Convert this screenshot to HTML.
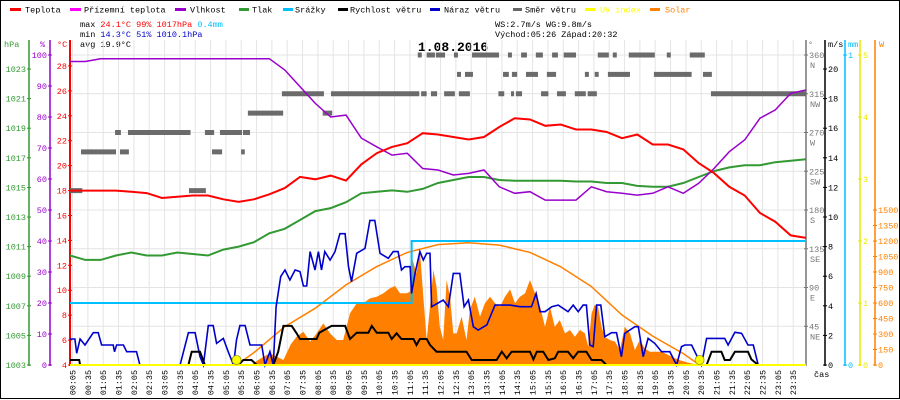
<!DOCTYPE html>
<html><head><meta charset="utf-8"><style>
html,body{margin:0;padding:0;background:#fff;}
svg{display:block;font-family:"Liberation Mono",monospace;}
</style></head><body>
<svg id="chart" width="900" height="400" viewBox="0 0 900 400" xmlns="http://www.w3.org/2000/svg">
<rect x="0.5" y="0.5" width="899" height="398" fill="#fff" stroke="#000" stroke-width="1"/>
<g font-size="8.5">
<g><rect x="10" y="8" width="11" height="3" fill="#ff0000"/><text x="25" y="12.5">Teplota</text></g>
<g><rect x="70" y="8" width="11" height="3" fill="#ff00ff"/><text x="84" y="12.5">Přízemní teplota</text></g>
<g><rect x="175" y="8" width="11" height="3" fill="#9900cc"/><text x="190" y="12.5">Vlhkost</text></g>
<g><rect x="239" y="8" width="10" height="3" fill="#339933"/><text x="252" y="12.5">Tlak</text></g>
<g><rect x="283" y="8" width="10" height="3" fill="#00bfff"/><text x="295" y="12.5">Srážky</text></g>
<g><rect x="338" y="8" width="10" height="3" fill="#000"/><text x="350" y="12.5">Rychlost větru</text></g>
<g><rect x="430" y="8" width="10" height="3" fill="#0000cc"/><text x="444" y="12.5">Náraz větru</text></g>
<g><rect x="513" y="8" width="9" height="3" fill="#666"/><text x="525" y="12.5">Směr větru</text></g>
<g><rect x="585" y="8" width="10" height="3" fill="#ffff00"/><text x="600" y="12.5" fill="#ffff00">UV index</text></g>
<g><rect x="650" y="8" width="10" height="3" fill="#ff8000"/><text x="665" y="12.5" fill="#ff8000">Solar</text></g>
</g>
<g font-size="8.5">
<text x="80" y="27">max <tspan fill="#ff0000">24.1°C  99%  1017hPa</tspan>     <tspan fill="#00bfff">0.4mm</tspan></text>
<text x="80" y="37">min <tspan fill="#0000cc">14.3°C  51%  1010.1hPa</tspan></text>
<text x="80" y="47">avg 19.9°C</text>
<text x="495" y="27">WS:2.7m/s   WG:9.8m/s</text>
<text x="495" y="37">Východ:05:26 Západ:20:32</text>
</g>
<text x="418" y="51" font-size="13" font-weight="bold">1.08.2016</text>
<g id="grid"></g>
<g id="axes"></g>
<g id="series"></g>
</svg>
<script>
// ---- data ----
const halfHours = [0,0.5,1,1.5,2,2.5,3,3.5,4,4.5,5,5.5,6,6.5,7,7.5,8,8.5,9,9.5,10,10.5,11,11.5,12,12.5,13,13.5,14,14.5,15,15.5,16,16.5,17,17.5,18,18.5,19,19.5,20,20.5,21,21.5,22,22.5,23,23.5,24];
const tempValues = [18.0,18.0,18.0,18.0,17.9,17.8,17.4,17.5,17.6,17.6,17.3,17.1,17.3,17.7,18.2,19.1,18.9,19.2,18.8,20.1,21.0,21.5,21.8,22.6,22.5,22.3,22.1,22.3,23.1,23.8,23.7,23.2,23.3,22.9,22.9,22.7,22.2,22.5,21.7,21.7,21.3,20.2,19.4,18.3,17.6,16.2,15.5,14.4,14.2];
const humidityValues = [97.9,97.9,98.8,98.8,98.8,98.8,98.8,98.8,98.8,98.8,98.8,98.8,98.8,98.8,95.2,89.8,84.4,80,80.6,73.2,70.4,67.7,68.3,63.4,62.9,61.3,61.8,62.9,57.5,55.4,55.9,53.2,53.2,53.2,57.5,55.9,55.4,54.8,55.4,57.5,55.4,58.6,63.4,68.8,72.6,79.6,82.3,87.6,88.7];
const pressureValues = [1010.4,1010.1,1010.1,1010.4,1010.6,1010.4,1010.4,1010.6,1010.5,1010.4,1010.8,1011.0,1011.3,1011.9,1012.2,1012.8,1013.4,1013.6,1014.0,1014.6,1014.7,1014.8,1014.7,1014.9,1015.3,1015.5,1015.7,1015.7,1015.5,1015.45,1015.45,1015.45,1015.45,1015.4,1015.4,1015.3,1015.3,1015.1,1015.05,1015.05,1015.3,1015.7,1016.1,1016.35,1016.5,1016.5,1016.7,1016.8,1016.9];
const rainTimes = [0,11.14,24];
const rainValues = [0.2,0.4,0.4];
const gustTimes = [0,0.16,0.22,0.33,0.49,0.76,0.92,1.03,1.41,1.45,1.52,1.74,1.85,2.17,2.28,3.59,3.86,4.08,4.24,4.35,4.51,4.67,4.78,5.0,5.16,5.33,5.43,5.54,5.71,5.87,6.25,6.36,6.52,6.63,6.72,6.87,7.01,7.17,7.34,7.5,7.61,7.72,7.83,7.99,8.1,8.2,8.31,8.48,8.64,8.8,8.97,9.08,9.18,9.35,9.62,9.78,9.94,10.11,10.38,10.54,10.7,10.81,10.92,11.09,11.14,11.25,11.41,11.52,11.63,11.74,11.79,12.17,12.34,12.5,12.71,12.85,12.99,13.15,13.31,13.59,13.86,14.35,14.67,15.05,15.2,15.33,15.49,15.71,15.92,16.24,16.41,16.57,16.73,16.84,16.95,17.06,17.17,17.31,17.44,17.66,17.82,17.98,18.09,18.42,18.53,18.69,18.85,19.07,19.29,19.56,19.78,19.94,20.05,20.27,20.59,20.76,21.35,21.46,21.68,21.9,22.11,22.28,22.44,24];
const gustValues = [1.76,1.76,0.79,1.76,1.35,2.18,2.18,1.35,1.35,0.9,1.35,1.35,0.9,0.9,0,0,2.18,2.18,0.56,0,2.66,2.66,1.46,1.80,0.9,0,1.69,2.66,2.66,1.35,1.35,0,0.9,0,3.94,5.97,6.42,5.74,6.42,6.31,5.34,5.34,7.66,6.42,7.66,6.42,7.66,7.09,7.66,8.87,8.87,6.64,5.63,7.55,7.88,9.77,9.77,7.55,7.21,7.66,7.66,6.42,6.64,6.64,4.84,6.19,7.66,7.09,7.55,7.55,3.94,4.39,3.94,6.19,6.19,3.94,4.39,2.59,2.36,2.70,4.05,4.05,3.94,3.94,4.84,3.6,3.6,3.94,4.05,3.6,4.05,3.6,4.05,4.05,1.35,1.24,4.05,4.05,1.91,2.18,2.18,0.56,2.14,2.59,2.59,0.56,1.80,1.46,0.9,0.9,0,1.24,1.35,1.35,0,1.80,1.80,1.35,2.21,2.14,1.35,1.35,0,0];
const speedTimes = [0,0.3,0.33,3.86,3.97,4.24,4.4,5.49,5.65,5.92,6.09,6.63,6.79,6.96,7.23,7.39,7.5,8.04,8.13,8.53,8.97,9.13,9.35,9.73,9.84,10.0,10.38,10.49,10.65,10.81,11.2,11.3,11.41,11.63,11.74,11.95,12.93,13.1,13.91,14.08,14.24,14.4,15.0,15.11,15.22,15.43,15.6,15.81,15.92,16.24,16.41,16.57,16.84,17.01,17.33,17.49,20.76,20.92,21.24,21.35,21.52,21.68,22.11,22.22,22.44,24];
const speedValues = [0.34,0.34,0,0,0.9,0.9,0,0,0.34,0.34,0,0,0.9,2.64,2.64,2.14,1.76,1.76,2.18,2.64,2.64,1.76,2.18,2.18,2.64,2.18,2.18,1.76,2.14,1.76,1.76,1.35,1.76,1.76,1.35,0.9,0.9,0.34,0.34,0.9,0.45,0.9,0.9,0.38,0.9,0.9,0.34,0.45,0.9,0.9,0.45,0.9,0.9,0.34,0.34,0,0,0.9,0.9,0.34,0.34,0.9,0.9,0.38,0,0];
const solarTimes = [5.9,6.2,6.52,6.96,7.2,7.39,7.61,7.83,8.04,8.26,8.48,8.7,8.91,9.13,9.35,9.56,9.78,10.0,10.22,10.43,10.6,10.76,10.98,11.09,11.14,11.3,11.41,11.52,11.63,11.74,11.85,11.95,12.06,12.17,12.28,12.39,12.5,12.61,12.77,12.93,13.04,13.2,13.37,13.53,13.7,13.86,14.02,14.18,14.35,14.51,14.67,14.84,15.0,15.16,15.33,15.49,15.65,15.81,15.97,16.14,16.3,16.46,16.63,16.79,16.9,17.01,17.11,17.22,17.33,17.44,17.6,17.77,17.93,18.09,18.26,18.42,18.58,18.74,18.91,19.07,19.29,19.51,19.72,19.94,20.15,20.37,20.59];
const solarValues = [0,60,113,48,200,274,322,226,306,403,306,242,242,500,597,597,645,661,694,742,765,694,694,710,1049,887,1113,661,242,564,919,758,371,242,823,661,306,306,468,242,532,661,468,597,661,597,564,661,732,597,661,694,823,694,564,371,564,371,435,306,339,274,339,306,177,500,581,564,371,274,242,226,145,371,306,145,242,161,129,129,129,97,65,42,23,10,0];
const solarMaxTimes = [5.43,6,7,8,9,10,11,12,13,14,15,16,17,18,19,20,20.53];
const solarMaxValues = [0,120,371,550,775,952,1090,1165,1184,1160,1090,950,760,484,280,110,0];
const sunEvents = [5.43,20.53];
const dirStart = [0,3.88,0.36,1.63,4.63,5.58,1.47,1.89,4.4,4.89,5.64,5.8,8.24,6.91,8.51,11.45,11.77,12.2,12.68,13.97,14.38,14.54,15.36,15.88,16.46,16.88,20.9,12.62,12.88,14.12,14.41,14.87,15.55,16.79,17.11,17.54,19.04,20.64,11.34,11.63,11.93,12.52,13.11,14.28,14.71,15.19,15.72,16.1,17.21,17.7,18.22,19.46,20.21];
const dirEnd   = [0.4,4.43,1.5,1.92,4.96,5.7,1.66,3.93,4.7,5.61,5.87,6.95,8.55,8.28,11.39,11.63,11.97,12.55,13.04,14.16,14.48,14.74,15.6,16.17,16.82,17.18,24,12.75,13.14,14.31,14.58,15.26,15.85,16.92,17.24,18.26,20.27,20.93,11.47,11.9,12.23,12.65,13.99,14.41,14.9,15.42,15.91,16.5,17.57,17.83,19.07,19.59,20.7];
const dirDeg   = [202.5,202.5,247.5,247.5,247.5,247.5,270,270,270,270,270,292.5,292.5,315,315,315,315,315,315,315,315,315,315,315,315,315,315,337.5,337.5,337.5,337.5,337.5,337.5,337.5,337.5,337.5,337.5,337.5,360,360,360,360,360,360,360,360,360,360,360,360,360,360,360];
const hpaTicks = [1003,1005,1007,1009,1011,1013,1015,1017,1019,1021,1023];
const humTicks = [0,10,20,30,40,50,60,70,80,90,100];
const tempTicks = [4,6,8,10,12,14,16,18,20,22,24,26,28];
const dirTicks = [45,90,135,180,225,270,315,360];
const dirNames = ["NE","E","SE","S","SW","W","NW","N"];
const windTicks = [0,2,4,6,8,10,12,14,16,18,20];
const rainTicks = [0,1];
const uvTicks = [0,1,2,3,4,5];
const solarTicks = [0,150,300,450,600,750,900,1050,1200,1350,1500];

// ---- scales ----
const X0=70, PX=30.667, Y0=365;
const x = t => X0 + t*PX;
const yT = v => Y0-(v-4)*12.46;
const yH = v => Y0-v*3.1;
const yP = v => Y0-(v-1003)*14.8;
const yV = v => Y0-v*14.8;
const yR = v => Y0-v*310;
const yW = v => Y0-v*0.10333;
const yD = v => Y0-v*0.8611;
const yU = v => Y0-v*62;

const NS="http://www.w3.org/2000/svg";
function mk(parent, tag, attrs, text){
  const el=document.createElementNS(NS,tag);
  for(const k in attrs) el.setAttribute(k,attrs[k]);
  if(text!==undefined) el.textContent=text;
  parent.appendChild(el);
  return el;
}
const grid=document.getElementById('grid');
const axes=document.getElementById('axes');
const series=document.getElementById('series');

for(let i=0;i<48;i++){
  const gx=x(i*0.5+5/60);
  const g=mk(grid,'line',{x1:gx,x2:gx,y1:40,y2:Y0,stroke:'#e4e4e4','stroke-width':1});
  
  
  const lb=mk(axes,'text',{x:gx+3,y:370,'font-size':8.4,'text-anchor':'end',transform:`rotate(-90 ${gx+3} 370)`},
    String(Math.floor(i/2)).padStart(2,'0')+':'+(i%2?'35':'05'));
  
  
}
dirTicks.forEach((d,i)=>{
  const gy=yD(d);
  const g=mk(grid,'line',{x1:X0,x2:806,y1:gy,y2:gy,stroke:'#e4e4e4','stroke-width':1});
  
  
});

function vAxis(ax,color,ticks,scale,side,name){
  const l=mk(axes,'line',{x1:ax,x2:ax,y1:40,y2:Y0+1,stroke:color,'stroke-width':ax===X0?2:1.5});
  
  
  ticks.forEach((v,i)=>{
    const ty=scale(v);
    const tk=mk(axes,'line',{x1:ax-2,x2:ax+2,y1:ty,y2:ty,stroke:color,'stroke-width':1});
    
    
    const t=mk(axes,'text',{x:side==='left'?ax-3:ax+3,y:ty+3,'font-size':8.5,fill:color,'text-anchor':side==='left'?'end':'start'},String(v));
    
    
  });
}
vAxis(29,'#339933',hpaTicks,yP,'left','pressure');
vAxis(50,'#9900cc',humTicks,yH,'left','humidity');
vAxis(X0,'#ff0000',tempTicks,yT,'left','temperature');
vAxis(806,'#777',dirTicks,yD,'right','direction');
dirTicks.forEach((d,i)=>{
  const t=mk(axes,'text',{x:810,y:yD(d)+13,'font-size':8.5,fill:'#777'},dirNames[i]);
  
  
});
vAxis(825,'#000',windTicks,yV,'right','wind-speed');
vAxis(845,'#00bfff',rainTicks,yR,'right','rain');
vAxis(860,'#e8e800',uvTicks,yU,'right','uv');
vAxis(875,'#ff8000',solarTicks,yW,'right','solar');
[['hPa',4,'#339933'],['%',40,'#9900cc'],['°C',57,'#ff0000'],['°',808,'#777'],['m/s',828,'#000'],['mm',848,'#00bfff'],['W',879,'#ff8000']].forEach(a=>{
  const t=mk(axes,'text',{x:a[1],y:47,'font-size':8.5,fill:a[2]},a[0]);
  
  
});
const cas=mk(axes,'text',{x:814,y:377,'font-size':8.5},'čas');



function pts(ts,vs,sx,sy){return ts.map((t,i)=>sx(t).toFixed(1)+','+sy(vs[i]).toFixed(1)).join(' ');}
const sa=mk(series,'polygon',{points:x(solarTimes[0])+','+Y0+' '+pts(solarTimes,solarValues,x,yW)+' '+x(solarTimes[solarTimes.length-1])+','+Y0,fill:'#ff8000'});


const sm=mk(series,'polyline',{points:pts(solarMaxTimes,solarMaxValues,x,yW),fill:'none',stroke:'#ff8000','stroke-width':1.5});


dirStart.forEach((s,i)=>{
  const r=mk(series,'rect',{x:x(s),y:yD(dirDeg[i])-2.5,width:x(dirEnd[i])-x(s),height:5,fill:'#6b6b6b'});
  
  
});
let rp=[];
rainTimes.forEach((t,i)=>{ if(i>0) rp.push(x(t)+','+yR(rainValues[i-1])); rp.push(x(t)+','+yR(rainValues[i])); });
const rl=mk(series,'polyline',{points:rp.join(' '),fill:'none',stroke:'#00bfff','stroke-width':2});


const pl=mk(series,'polyline',{points:pts(halfHours,pressureValues,x,yP),fill:'none',stroke:'#339933','stroke-width':2});


const hl=mk(series,'polyline',{points:pts(halfHours,humidityValues,x,yH),fill:'none',stroke:'#9900cc','stroke-width':1.5});


const tl=mk(series,'polyline',{points:pts(halfHours,tempValues,x,yT),fill:'none',stroke:'#ff0000','stroke-width':2});


const gl=mk(series,'polyline',{points:pts(gustTimes,gustValues,x,yV),fill:'none',stroke:'#0000cc','stroke-width':1.6});


const wl=mk(series,'polyline',{points:pts(speedTimes,speedValues,x,yV),fill:'none',stroke:'#000','stroke-width':2});


const ul=mk(series,'line',{x1:X0,x2:806,y1:Y0,y2:Y0,stroke:'#ffff00','stroke-width':2});


sunEvents.forEach(t=>{
  const c=mk(series,'circle',{cx:x(t),cy:360,r:4.5,fill:'#ffff00',stroke:'#999900','stroke-width':0.8});
  
  
});
</script>
</body></html>
